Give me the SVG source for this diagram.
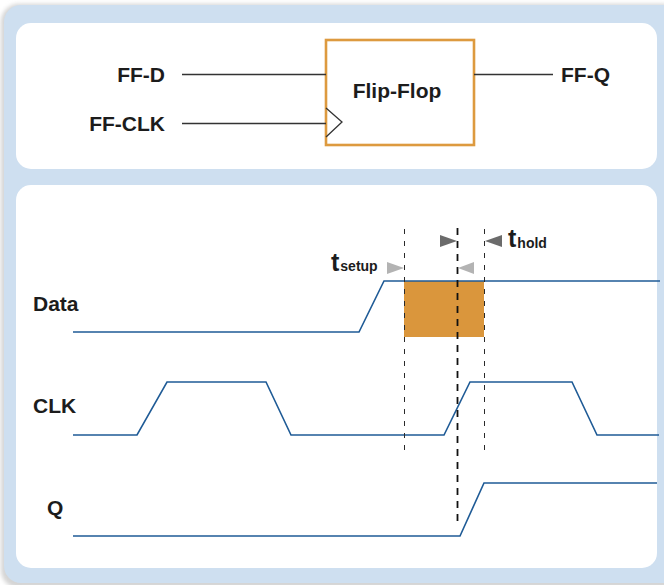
<svg xmlns="http://www.w3.org/2000/svg" width="664" height="585" viewBox="0 0 664 585">
  <defs>
    <filter id="soft" x="-5%" y="-5%" width="110%" height="110%">
      <feGaussianBlur stdDeviation="2"/>
    </filter>
  </defs>
  <style>
    .label { font-family: "Liberation Sans", Arial, sans-serif; font-weight: bold; font-size: 21px; fill: #1c1c1c; }
    .tbig { font-family: "Liberation Sans", Arial, sans-serif; font-weight: bold; font-size: 25px; fill: #1c1c1c; }
    .tsub { font-family: "Liberation Sans", Arial, sans-serif; font-weight: bold; font-size: 14px; fill: #1c1c1c; }
    .wire { stroke: #333333; stroke-width: 1.3; fill: none; }
    .wave { stroke: #1f5b96; stroke-width: 1.6; fill: none; stroke-linejoin: miter; }
    .guide { stroke: #2a2a2a; stroke-width: 1; stroke-dasharray: 5 7; fill: none; }
    .edge { stroke: #111111; stroke-width: 1.8; stroke-dasharray: 7 6; fill: none; }
    .dark { fill: #6b6b6b; }
    .light { fill: #b3b3b3; }
  </style>

  <!-- background card with soft shadow -->
  <rect x="1" y="4" width="680" height="584" rx="18" fill="#d4d4d4" filter="url(#soft)"/>
  <rect x="4" y="5" width="680" height="578" rx="17" fill="#cedff0"/>

  <!-- panels -->
  <rect id="panel-block" x="16" y="23" width="641" height="146" rx="15" fill="#ffffff"/>
  <rect id="panel-timing" x="16" y="185" width="641" height="383" rx="15" fill="#ffffff"/>

  <!-- block diagram -->
  <g id="flipflop">
    <rect x="326" y="40" width="148" height="105" fill="#ffffff" stroke="#dd9a3f" stroke-width="2.6"/>
    <polyline class="wire" points="326,108 342,122 326,137"/>
    <text class="label" x="397" y="98" text-anchor="middle">Flip-Flop</text>
  </g>
  <g id="ff-d">
    <text class="label" x="165" y="82" text-anchor="end">FF-D</text>
  </g>
  <g id="ff-clk">
    <text class="label" x="165" y="131" text-anchor="end">FF-CLK</text>
  </g>
  <g id="ff-q">
    <text class="label" x="561" y="82">FF-Q</text>
  </g>
  <g id="wires">
    <line class="wire" x1="182" y1="74.5" x2="326" y2="74.5"/>
    <line class="wire" x1="182" y1="123.5" x2="326" y2="123.5"/>
    <line class="wire" x1="474" y1="74.5" x2="553" y2="74.5"/>
  </g>

  <!-- timing diagram -->
  <g id="setup-hold-window">
    <rect x="404" y="281" width="80" height="56" fill="#da963c"/>
  </g>
  <g id="data">
    <text class="label" x="33" y="311">Data</text>
    <polyline class="wave" points="73,332 359,332 384,281 660,281"/>
  </g>
  <g id="clk">
    <text class="label" x="33" y="413">CLK</text>
    <polyline class="wave" points="73,435 137,435 167,382 266,382 291,435 444,435 470,382 572,382 597,435 659,435"/>
  </g>
  <g id="q">
    <text class="label" x="47" y="515">Q</text>
    <polyline class="wave" points="73,536 460,536 484,483 657,483"/>
  </g>

  <g id="guides">
    <line class="guide" x1="404.5" y1="229" x2="404.5" y2="457"/>
    <line class="guide" x1="484.5" y1="229" x2="484.5" y2="457"/>
    <line class="edge" x1="457.5" y1="228" x2="457.5" y2="524"/>
  </g>

  <g id="markers">
    <polygon class="light" points="387,262 404,268 387,274"/>
    <polygon class="light" points="474,262 458,268 474,274"/>
    <polygon class="dark" points="440,235 457,241 440,247"/>
    <polygon class="dark" points="502,235 485,241 502,247"/>
  </g>

  <g id="t-setup">
    <text x="331" y="271"><tspan class="tbig">t</tspan><tspan class="tsub" dx="1">setup</tspan></text>
  </g>
  <g id="t-hold">
    <text x="508" y="247"><tspan class="tbig">t</tspan><tspan class="tsub" dx="1" dy="1">hold</tspan></text>
  </g>
</svg>
